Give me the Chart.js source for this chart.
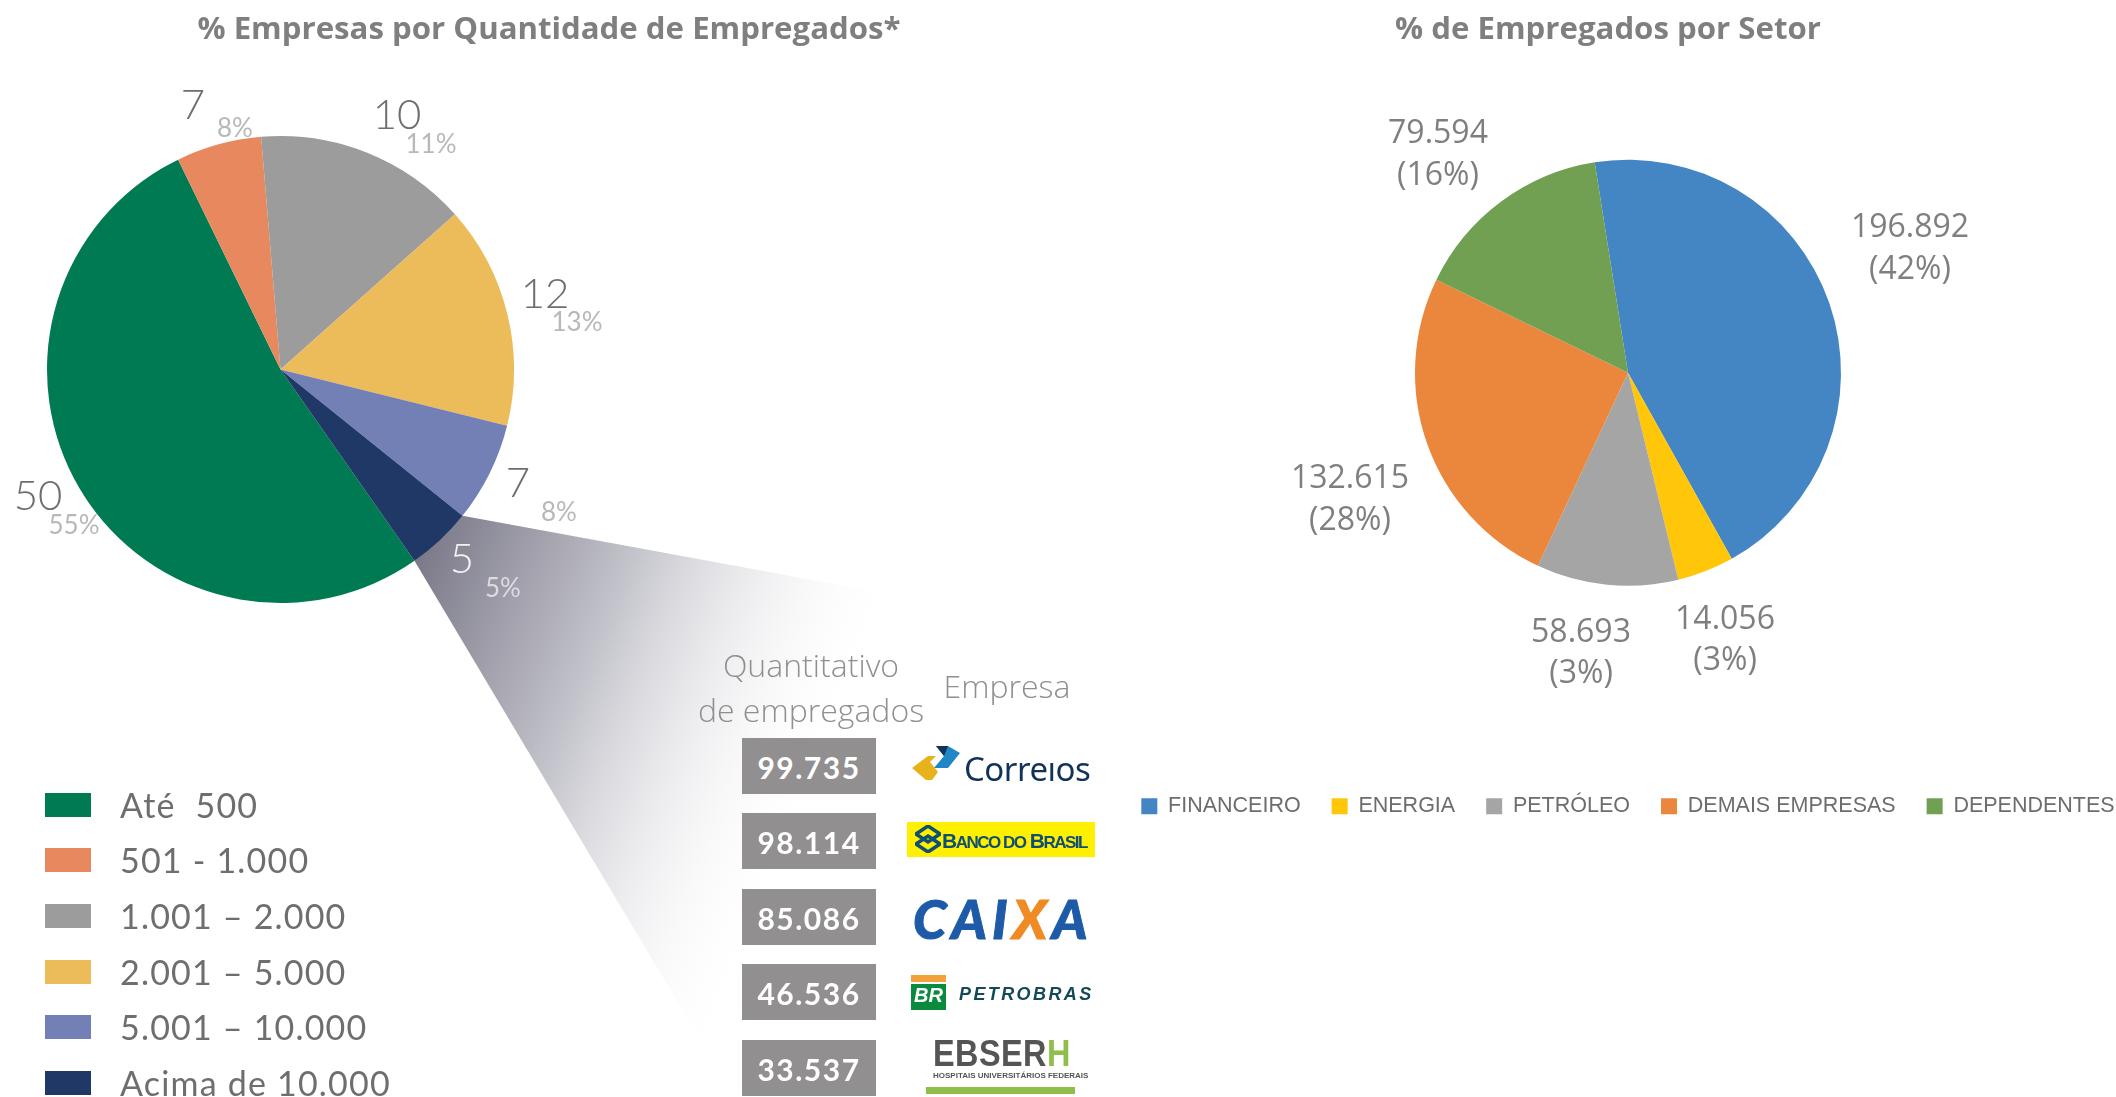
<!DOCTYPE html>
<html lang="pt-BR">
<head>
<meta charset="utf-8">
<title>Empresas e empregados</title>
<script src="https://cdn.jsdelivr.net/npm/chart.js@4"></script>
<style>
  html, body { margin: 0; background: #fff; }
  #page { position: relative; width: 2116px; height: 1097px; overflow: hidden; }
  canvas { position: absolute; top: 0; }
  .t { position: absolute; transform: translate(-50%, -50%); white-space: nowrap; line-height: 1; }
  .title { font: 700 31.2px "Open Sans", sans-serif; color: #7f7f7f; }
  .qtd { font: 300 42px Lato, sans-serif; color: #6e6e6e; }
  .pct { font: 400 26px Lato, sans-serif; color: #b8b8b8; }
  .setor { font: 400 32px "Open Sans", sans-serif; color: #7f7f7f; }
  .head { font: 300 32px "Open Sans", sans-serif; color: #8f8f8f; }
  .leg { position: absolute; left: 120px; font: 400 34px Lato, sans-serif; color: #6e6e6e; line-height: 1; white-space: pre; letter-spacing: 1.2px; transform: translateY(-50%); }
  .box { position: absolute; left: 45px; width: 46px; height: 24px; }
  .cell { position: absolute; left: 742px; width: 134px; height: 56px; background: #918f8f; color: #fff; font: 700 30px Lato, sans-serif; letter-spacing: 1.5px; text-align: center; line-height: 58px; }
  .abs { position: absolute; }
</style>
</head>
<body>
<div id="page">
  <canvas id="empresas" width="1000" height="1097" style="left:0"></canvas>
  <canvas id="setores" width="1056" height="846" style="left:1100px;top:-19px"></canvas>
</div>
<script>
// faixas de empregados (fatias: nao batem com os numeros impressos)
const faixas = ['Até  500', '501 - 1.000', '1.001 – 2.000', '2.001 – 5.000', '5.001 – 10.000', 'Acima de 10.000'];
const faixasFatia = [52.5, 5.9, 14.75, 15.45, 6.9, 4.5];
const faixasQtd = ['50', '7', '10', '12', '7', '5'];
const faixasPct = ['55%', '8%', '11%', '13%', '8%', '5%'];
const faixasCor = ['#007a52', '#e8885f', '#9c9c9c', '#ecbb5a', '#7280b6', '#1f3866'];

// setores (idem, fatias conforme desenhadas)
const setores = ['FINANCEIRO', 'ENERGIA', 'PETRÓLEO', 'DEMAIS EMPRESAS', 'DEPENDENTES'];
const setoresFatia = [44.4, 4.3, 10.75, 25.25, 15.3];
const setoresQtd = ['196.892', '14.056', '58.693', '132.615', '79.594'];
const setoresPct = ['(42%)', '(3%)', '(3%)', '(28%)', '(16%)'];
const setoresCor = ['#4485c3', '#ffc60a', '#a5a5a5', '#eb873d', '#71a052'];

const maiores = ['99.735', '98.114', '85.086', '46.536', '33.537'];

// posicoes dos rotulos na pagina
const posQtd = [[38,494],[193,103],[397,113],[545,292],[518,481],[462,557]];
const posPct = [[74,524],[235,127],[431,143],[577,321],[559,511],[503,587]];
const posSetorQtd = [[1910,224],[1725,616],[1581,629],[1350,475],[1438,130]];
const posSetorPct = [[1910,266],[1725,657],[1581,670],[1350,517],[1438,172]];
const topCelulas = [738, 813, 889, 964, 1040];
const topLegenda = [793, 848, 904, 960, 1015, 1071];

const page = document.getElementById('page');
function txt(cls, x, y, s, color){
  const d = document.createElement('div');
  d.className = 't ' + cls; d.style.left = x + 'px'; d.style.top = y + 'px'; d.textContent = s;
  if (color) d.style.color = color;
  page.appendChild(d); return d;
}
function html(s){ page.insertAdjacentHTML('beforeend', s); }

// cunha cinza que sai da fatia "Acima de 10.000" em direcao a tabela
const cunha = {
  id: 'cunha',
  beforeDatasetsDraw(chart){
    const a = chart.getDatasetMeta(0).data[5], c = chart.ctx;
    const r = a.outerRadius;
    const g = c.createLinearGradient(420, 520, 860, 695);
    g.addColorStop(0, '#777585'); g.addColorStop(0.45, '#c4c4cc'); g.addColorStop(1, 'rgba(255,255,255,0)');
    c.save(); c.fillStyle = g; c.beginPath();
    c.moveTo(a.x + r*Math.cos(a.startAngle), a.y + r*Math.sin(a.startAngle));
    c.lineTo(900, 596); c.lineTo(705, 1048);
    c.lineTo(a.x + r*Math.cos(a.endAngle), a.y + r*Math.sin(a.endAngle));
    c.closePath(); c.fill(); c.restore();
  }
};

new Chart(document.getElementById('empresas'), {
  type: 'pie',
  data: { labels: faixas, datasets: [{ data: faixasFatia, backgroundColor: faixasCor, borderWidth: 0 }] },
  options: {
    responsive: false, animation: false, rotation: 145,
    layout: { padding: { left: 47, right: 486, top: 136, bottom: 494 } },
    plugins: { legend: { display: false }, tooltip: { enabled: false } }
  },
  plugins: [cunha]
});

new Chart(document.getElementById('setores'), {
  type: 'pie',
  data: { labels: setores, datasets: [{ data: setoresFatia, backgroundColor: setoresCor, borderWidth: 0, radius: 213 }] },
  options: {
    responsive: false, animation: false, rotation: -9,
    plugins: {
      tooltip: { enabled: false },
      legend: { position: 'bottom', labels: { boxWidth: 16, boxHeight: 16, padding: 31, color: '#6d6d6d', font: { family: '"Liberation Sans"', size: 21.5 } } }
    }
  }
});

txt('title', 549, 27, '% Empresas por Quantidade de Empregados*');
txt('title', 1608, 27, '% de Empregados por Setor');

faixas.forEach((f, i) => {
  txt('qtd', posQtd[i][0], posQtd[i][1], faixasQtd[i], i === 5 ? '#f2f2f2' : null);
  txt('pct', posPct[i][0], posPct[i][1], faixasPct[i], i === 5 ? '#dcdce0' : null);
  html(`<div class="box" style="top:${topLegenda[i]}px;background:${faixasCor[i]}"></div>`);
  html(`<div class="leg" style="top:${topLegenda[i] + 12}px">${f}</div>`);
});

setores.forEach((s, i) => {
  txt('setor', posSetorQtd[i][0], posSetorQtd[i][1], setoresQtd[i]);
  txt('setor', posSetorPct[i][0], posSetorPct[i][1], setoresPct[i]);
});

txt('head', 811, 664, 'Quantitativo');
txt('head', 811, 709, 'de empregados');
txt('head', 1007, 685, 'Empresa');
maiores.forEach((m, i) => html(`<div class="cell" style="top:${topCelulas[i]}px">${m}</div>`));

// logotipos refeitos com texto e formas simples
html(`<svg class="abs" style="left:912px;top:744px" width="50" height="38" viewBox="0 0 50 38">
  <path d="M0 24 L16 12 L24 12 L18 18 L26 28 L20 36 L14 36 Z" fill="#e8b21a"/>
  <path d="M24 2 L36 2 L48 9 L36 24 L22 24 L32 12 Z" fill="#1f87c8"/><path d="M24 2 L36 2 L32 12 Z" fill="#12325c"/></svg>`);
html(`<div class="abs" style="left:964px;top:752px;font:400 33px 'Noto Sans',sans-serif;letter-spacing:-.5px;color:#12325c;line-height:1.0">Correıos</div>`);
html(`<div class="abs" style="left:907px;top:822px;width:188px;height:35px;background:#ffef00"></div>`);
html(`<svg class="abs" style="left:915px;top:825px" width="26" height="28" viewBox="0 0 26 28"><path d="M13 1 L25 9 L13 17 L1 9 Z M13 11 L25 19 L13 27 L1 19 Z" fill="none" stroke="#0f4f74" stroke-width="3.5"/></svg>`);
html(`<div class="abs" style="left:942px;top:829px;font:700 21px 'Liberation Sans',sans-serif;letter-spacing:-1.5px;color:#0f4f74;line-height:1.1">B<span style="font-size:17px">ANCO DO</span> B<span style="font-size:17px">RASIL</span></div>`);
html(`<div class="abs" style="left:913px;top:889px;font:italic 900 54px Lato,sans-serif;letter-spacing:5px;-webkit-text-stroke:1px currentColor;color:#1d5ba8;line-height:1.1">CAI<span style="color:#f08a24">X</span>A</div>`);
html(`<div class="abs" style="left:911px;top:975px;width:35px;height:7px;background:#f2a23a"></div>`);
html(`<div class="abs" style="left:911px;top:984px;width:35px;height:26px;background:#0a8a3c;color:#fff;font:italic 900 20px 'Liberation Sans',sans-serif;text-align:center;line-height:22px">BR</div>`);
html(`<div class="abs" style="left:959px;top:985px;font:italic 700 18px 'Liberation Sans',sans-serif;letter-spacing:2.4px;color:#124a55;line-height:1">PETROBRAS</div>`);
html(`<div class="abs" style="left:933px;top:1036px;font:700 36px 'Liberation Sans',sans-serif;letter-spacing:.5px;color:#555;line-height:1;transform:scaleX(.9);transform-origin:left">EBSER<span style="color:#8fbf4a">H</span></div>`);
html(`<div class="abs" style="left:933px;top:1072px;width:142px;font:700 8px 'Liberation Sans',sans-serif;color:#555;line-height:1;white-space:nowrap">HOSPITAIS UNIVERSITÁRIOS FEDERAIS</div>`);
html(`<div class="abs" style="left:926px;top:1087px;width:149px;height:7px;background:#8fbf4a"></div>`);
</script>
</body>
</html>
